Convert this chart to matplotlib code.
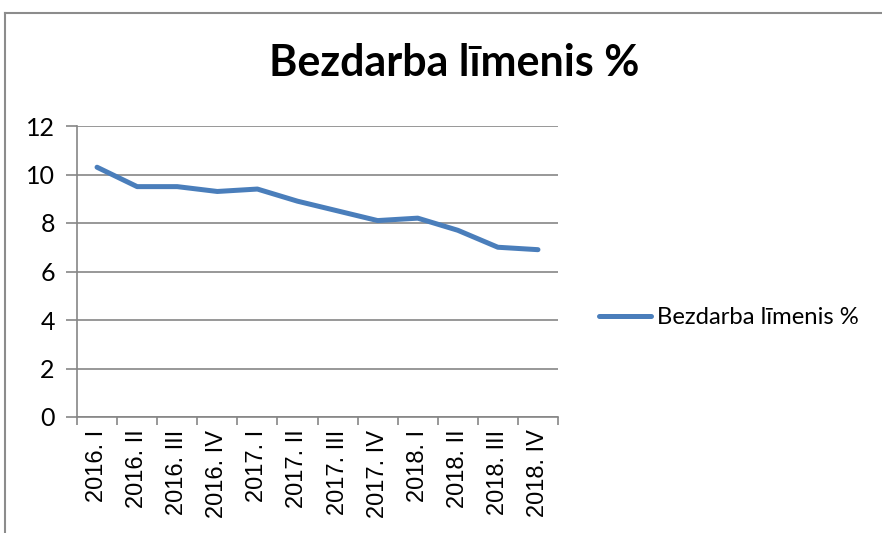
import matplotlib
matplotlib.use("Agg")
import matplotlib.pyplot as plt
from matplotlib.lines import Line2D
import numpy as np

# dati
quarters = ["2016. I", "2016. II", "2016. III", "2016. IV",
            "2017. I", "2017. II", "2017. III", "2017. IV",
            "2018. I", "2018. II", "2018. III", "2018. IV"]
unemployment = [10.3, 9.5, 9.5, 9.3, 9.4, 8.9, 8.5, 8.1, 8.2, 7.7, 7.0, 6.9]
series_name = "Bezdarba līmenis %"
y_ticks = [0, 2, 4, 6, 8, 10, 12]

line_color = "#4A7EBB"
grid_color = "#868686"

fig = plt.figure(figsize=(8.82, 5.33), dpi=100)
ax = fig.add_axes([77 / 882, 1 - 417 / 533, 481 / 882, 291 / 533])

x = np.arange(len(quarters))
ax.plot(x, unemployment, color=line_color, lw=3.6, solid_capstyle="round",
        solid_joinstyle="round", label=series_name, zorder=3)

ax.set_xlim(-0.5, len(quarters) - 0.5)
ax.set_ylim(0, 12)
ax.set_yticks(y_ticks)
ax.set_yticklabels([str(v) for v in y_ticks], fontfamily="Lato", fontsize=18)
ax.grid(axis="y", color=grid_color, lw=1.2)
ax.set_axisbelow(True)

# x ass: ķeksīši starp kategorijām
ax.set_xticks(x)
ax.set_xticklabels(quarters, rotation=90, fontfamily="Liberation Sans", fontsize=17)
ax.set_xticks(np.arange(-0.5, len(quarters)), minor=True)
ax.tick_params(axis="x", which="major", length=0, pad=9)
ax.tick_params(axis="x", which="minor", length=6, width=1.2, color=grid_color, direction="out")
ax.tick_params(axis="y", length=8, width=1.2, color=grid_color, pad=8)

for s in ["top", "right"]:
    ax.spines[s].set_visible(False)
for s in ["left", "bottom"]:
    ax.spines[s].set_color(grid_color)
    ax.spines[s].set_linewidth(1.2)

fig.text(454 / 882, 1 - 63 / 533, series_name, ha="center", va="center",
         fontfamily="Lato", fontweight="bold", fontsize=31)

leg = fig.legend(loc="center left", bbox_to_anchor=(577 / 882, 1 - 318 / 533),
                 frameon=False, prop={"family": "Lato", "size": 17.2},
                 handlelength=2.2, handletextpad=0.25)

# rāmis
fig.add_artist(Line2D([5 / 882, 5 / 882], [0, 1 - 13 / 533], color="#8c8c8c", lw=1.5,
                      transform=fig.transFigure))
fig.add_artist(Line2D([5 / 882, 1], [1 - 13 / 533, 1 - 13 / 533], color="#8c8c8c", lw=1.5,
                      transform=fig.transFigure))

fig.savefig("out.png", dpi=100)
